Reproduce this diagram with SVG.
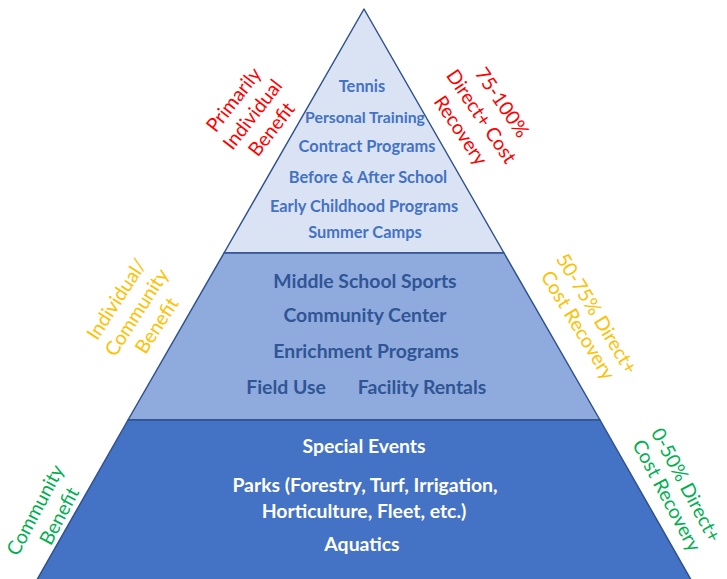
<svg xmlns="http://www.w3.org/2000/svg" width="727" height="579" viewBox="0 0 727 579">
  <style>
    .tier { stroke: #2F528F; stroke-width: 1.5; stroke-linejoin: round; }
    .t1 { font-family: Lato, "Open Sans", sans-serif; font-weight: bold; font-size: 16.4px; fill: #4472C4; text-anchor: middle; }
    .t2 { font-family: Lato, "Open Sans", sans-serif; font-weight: bold; font-size: 19.4px; fill: #2F5597; text-anchor: middle; }
    .t3 { font-family: Lato, "Open Sans", sans-serif; font-weight: bold; font-size: 19.4px; fill: #FFFFFF; text-anchor: middle; }
    .side { font-family: Lato, "Open Sans", sans-serif; font-size: 19.5px; text-anchor: middle; dominant-baseline: central; }
    .red { fill: #FF0000; }
    .amber { fill: #FFC000; }
    .green { fill: #00B050; }
  </style>
  <rect width="727" height="579" fill="#FFFFFF"/>

  <!-- top tier: individual benefit programs -->
  <g id="tier-top">
    <polygon class="tier" fill="#DAE3F3" points="364,9 224,253 504,253"/>
    <text class="t1" x="362" y="92">Tennis</text>
    <text class="t1" x="365" y="123" style="font-size:15.8px">Personal Training</text>
    <text class="t1" x="367" y="152">Contract Programs</text>
    <text class="t1" x="368" y="183">Before &amp; After School</text>
    <text class="t1" x="364" y="212">Early Childhood Programs</text>
    <text class="t1" x="365" y="238">Summer Camps</text>
  </g>

  <!-- middle tier: individual / community benefit -->
  <g id="tier-middle">
    <polygon class="tier" fill="#8FAADC" points="224,253 504,253 600,420 128,420"/>
    <text class="t2" x="365" y="288">Middle School Sports</text>
    <text class="t2" x="365" y="322">Community Center</text>
    <text class="t2" x="366" y="358">Enrichment Programs</text>
    <text class="t2" x="286" y="394">Field Use</text>
    <text class="t2" x="422" y="394">Facility Rentals</text>
  </g>

  <!-- bottom tier: community benefit -->
  <g id="tier-bottom">
    <polygon class="tier" fill="#4472C4" points="128,420 600,420 694,585 34,585"/>
    <text class="t3" x="364" y="453">Special Events</text>
    <text class="t3" x="365" y="492">Parks (Forestry, Turf, Irrigation,</text>
    <text class="t3" x="364" y="518">Horticulture, Fleet, etc.)</text>
    <text class="t3" x="362" y="551">Aquatics</text>
  </g>

  <!-- benefit labels, left side -->
  <g id="label-individual" class="side red" transform="translate(252,114) rotate(-52)">
    <text x="0" y="-24">Primarily</text>
    <text x="0" y="0">Individual</text>
    <text x="0" y="24">Benefit</text>
  </g>
  <g id="label-individual-community" class="side amber" transform="translate(136,312) rotate(-57)">
    <text x="0" y="-24">Individual/</text>
    <text x="0" y="0">Community</text>
    <text x="0" y="24">Benefit</text>
  </g>
  <g id="label-community" class="side green" transform="translate(48,510) rotate(-62)">
    <text x="-6" y="-12">Community</text>
    <text x="0" y="12">Benefit</text>
  </g>

  <!-- cost recovery labels, right side -->
  <g id="recovery-top" class="side red" transform="translate(482,116) rotate(56)">
    <text x="0" y="-25">75-100%</text>
    <text x="0" y="0">Direct+ Cost</text>
    <text x="0" y="25">Recovery</text>
  </g>
  <g id="recovery-middle" class="side amber" transform="translate(588,319) rotate(58.7)">
    <text x="0" y="-11">50-75% Direct+</text>
    <text x="0" y="11">Cost Recovery</text>
  </g>
  <g id="recovery-bottom" class="side green" transform="translate(677,490) rotate(62)">
    <text x="0" y="-11">0-50% Direct+</text>
    <text x="0" y="11">Cost Recovery</text>
  </g>
</svg>
